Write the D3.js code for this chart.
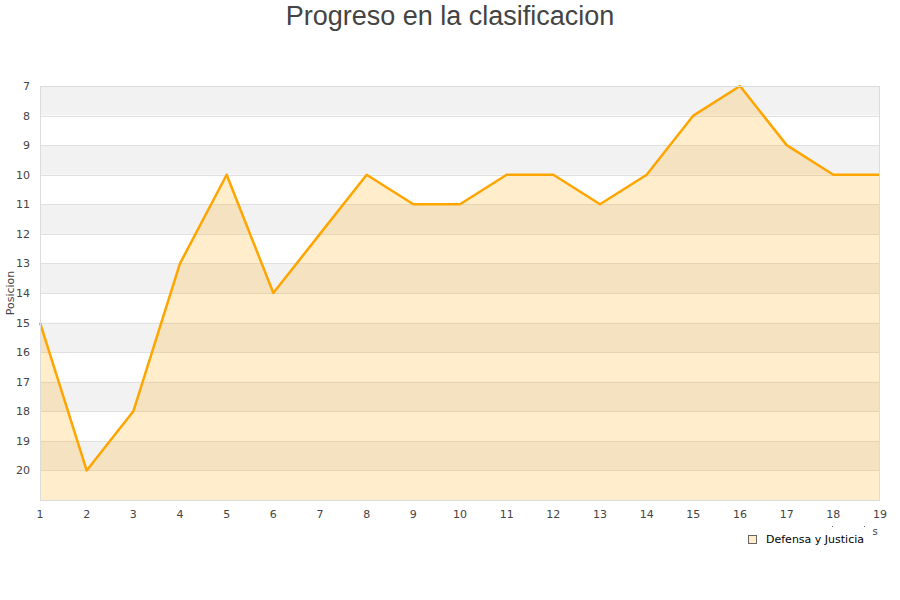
<!DOCTYPE html>
<html><head><meta charset="utf-8">
<script src="https://cdn.jsdelivr.net/npm/d3@7"></script>
<style>body{margin:0;background:#fff}</style>
</head><body>
<script>
const jornadas = [1,2,3,4,5,6,7,8,9,10,11,12,13,14,15,16,17,18,19];
const posiciones = [15,20,18,13,10,14,12,10,11,11,10,10,11,10,8,7,9,10,10];
const yTicks = [7,8,9,10,11,12,13,14,15,16,17,18,19,20];
const seriesName = "Defensa y Justicia";
const title = "Progreso en la clasificacion";
const yTitle = "Posicion";

const W=900,H=600;
const svg=d3.select("body").append("svg").attr("width",W).attr("height",H);
const L=40,R=880,T=86,B=500;
const x=d3.scaleLinear().domain([1,19]).range([L,R]);
const y=d3.scaleLinear().domain([7,21]).range([T,B]);

// bands
const bands=d3.range(7,21);
svg.selectAll("rect.band").data(bands).join("rect")
 .attr("x",L).attr("width",R-L)
 .attr("y",d=>y(d)).attr("height",d=>y(d+1)-y(d))
 .attr("fill",(d,i)=>i%2===0?"#f2f2f2":"#ffffff");
// grid lines
svg.selectAll("line.grid").data(d3.range(8,21)).join("line")
 .attr("x1",L).attr("x2",R).attr("y1",d=>Math.round(y(d))+0.5).attr("y2",d=>Math.round(y(d))+0.5)
 .attr("stroke","#e0e0e0").attr("stroke-width",1);

const pts=jornadas.map((j,i)=>[j,posiciones[i]]);
const area=d3.area().x(d=>x(d[0])).y0(y(21)).y1(d=>y(d[1]));
svg.append("path").datum(pts).attr("d",area).attr("fill","rgba(255,165,0,0.2)");
const line=d3.line().x(d=>x(d[0])).y(d=>y(d[1]));
svg.append("path").datum(pts).attr("d",line).attr("fill","none").attr("stroke","#ffa500").attr("stroke-width",2.5).attr("stroke-linejoin","round");

// border
svg.append("rect").attr("x",L+0.5).attr("y",T+0.5).attr("width",R-L-1).attr("height",B-T)
 .attr("fill","none").attr("stroke","#dcdcdc");

const font="DejaVu Sans, sans-serif";
// y labels
svg.selectAll("text.yl").data(yTicks).join("text")
 .attr("x",30).attr("y",d=>y(d)+4).attr("text-anchor","end")
 .attr("font-family",font).attr("font-size",11).attr("fill","#444").text(d=>d);
// x labels
svg.selectAll("text.xl").data(jornadas).join("text")
 .attr("x",d=>x(d)).attr("y",518).attr("text-anchor","middle")
 .attr("font-family",font).attr("font-size",11).attr("fill","#444").text(d=>d);

// y title
svg.append("text").attr("transform","translate(14,293) rotate(-90)").attr("text-anchor","middle")
 .attr("font-family",font).attr("font-size",11).attr("fill","#444").text(yTitle);
// clipped x title remnant
svg.append("text").attr("x",875).attr("y",535).attr("text-anchor","middle")
 .attr("font-family",font).attr("font-size",10).attr("fill","#444").text("s");
svg.append("rect").attr("x",832).attr("y",526).attr("width",1).attr("height",1).attr("fill","#666");
svg.append("rect").attr("x",864).attr("y",526).attr("width",1).attr("height",1).attr("fill","#666");

// title
svg.append("text").attr("x",450).attr("y",25).attr("text-anchor","middle")
 .attr("font-family","Liberation Sans, Arial, sans-serif").attr("font-size",27).attr("fill","#444").text(title);

// legend
svg.append("rect").attr("x",748.5).attr("y",535.5).attr("width",8).attr("height",8)
 .attr("fill","#ffedcc").attr("stroke","#666");
svg.append("text").attr("x",766).attr("y",543).attr("font-family",font).attr("font-size",11).attr("fill","#000").text(seriesName);
</script>
</body></html>
